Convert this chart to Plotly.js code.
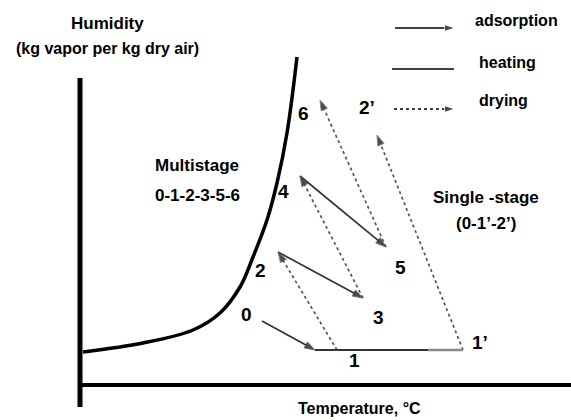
<!DOCTYPE html>
<html>
<head>
<meta charset="utf-8">
<script src="https://cdn.plot.ly/plotly-3.0.1.min.js"></script>
<style>html,body{margin:0;padding:0;background:#fff;}#chart{width:571px;height:420px;}</style>
</head>
<body>
<div id="chart"></div>
<script>
// Schematic coordinates (temperature units on x, humidity units on y)
const saturationX = [83, 143, 193, 220, 240, 253, 267, 277, 287, 297];
const saturationY = [68, 77, 90, 107, 133, 163, 200, 237, 287, 363];

// state points
const pointNames = ["0", "1", "1d", "2", "3", "4", "5", "6", "1'", "2'"];
const pointX = [262, 315, 337, 278, 363, 300, 386, 320, 463, 377];
const pointY = [99, 70, 70, 168, 122, 244, 173, 320, 70, 285];

// processes: [from, to]
const adsorption = [["0", "1"], ["2", "3"], ["4", "5"]];
const drying = [["1d", "2"], ["3", "4"], ["5", "6"], ["1'", "2'"]];
const heating = [["1", "1'"]];

// point labels
const labelText = ["0", "1", "2", "3", "4", "5", "6", "1’", "2’"];
const labelX = [246, 354, 260, 378, 283, 400, 303, 480, 367];
const labelY = [106, 60, 150, 103, 229, 153, 307, 78, 313];

// axes frame
const yAxisX = [80, 80], yAxisY = [13, 342];
const xAxisX = [80, 571], xAxisY = [35, 35];

// legend entries
const legendNames = ["adsorption", "heating", "drying"];
const legendLineX = [[395, 455], [392, 454], [394, 455]];
const legendLineY = [392, 351, 311];
const legendTextX = [473, 477, 477];
const legendTextY = [400, 358, 320];

const P = n => pointNames.indexOf(n);
const traces = [];

// axes
traces.push({x: yAxisX, y: yAxisY, mode: 'lines', line: {color: '#000', width: 5}, hoverinfo: 'skip'});
traces.push({x: xAxisX, y: xAxisY, mode: 'lines', line: {color: '#000', width: 4}, hoverinfo: 'skip'});

// saturation curve
traces.push({x: saturationX, y: saturationY, mode: 'lines', line: {color: '#000', width: 3.5, shape: 'spline', smoothing: 1}, hoverinfo: 'skip'});

function arrowTrace(a, b, dash, color) {
  return {
    x: [pointX[P(a)], pointX[P(b)]],
    y: [pointY[P(a)], pointY[P(b)]],
    mode: 'lines+markers',
    line: {color: color, width: 1.7, dash: dash},
    marker: {symbol: 'arrow', size: [0, 11], angleref: 'previous', color: '#000'},
    hoverinfo: 'skip'
  };
}
adsorption.forEach(p => traces.push(arrowTrace(p[0], p[1], 'solid', '#333')));
drying.forEach(p => traces.push(arrowTrace(p[0], p[1], '3px,3px', '#555')));
heating.forEach(p => {
  const x0 = pointX[P(p[0])], x1 = pointX[P(p[1])], y = pointY[P(p[0])];
  traces.push({x: [x0, x1], y: [y, y], mode: 'lines', line: {color: '#333', width: 2}, hoverinfo: 'skip'});
});
// grey end section of heating line
traces.push({x: [428, pointX[P("1'")]], y: [pointY[P("1'")], pointY[P("1'")]], mode: 'lines', line: {color: '#888', width: 2.5}, hoverinfo: 'skip'});

// legend lines
legendNames.forEach((n, i) => {
  const t = {x: legendLineX[i], y: [legendLineY[i], legendLineY[i]], mode: 'lines', hoverinfo: 'skip',
    line: {color: '#000', width: 1.7, dash: n === 'drying' ? '3px,3px' : 'solid'}};
  if (n !== 'heating') { t.mode = 'lines+markers'; t.marker = {symbol: 'arrow', size: [0, 11], angleref: 'previous', color: '#000'}; }
  traces.push(t);
});

const font = {family: 'Arial, "Liberation Sans", sans-serif', size: 17, color: '#000', weight: 'bold'};
const ann = [];
function txt(text, x, y, size, anchor) {
  ann.push({text: text, x: x, y: y, xref: 'x', yref: 'y', showarrow: false,
    xanchor: anchor || 'center', yanchor: 'middle', font: Object.assign({}, font, {size: size})});
}
labelText.forEach((t, i) => txt(t, labelX[i], labelY[i], 19));
legendNames.forEach((n, i) => txt(n, legendTextX[i], legendTextY[i], 16, 'left'));
txt('Humidity', 107, 397, 17);
txt('(kg vapor per kg dry air)', 107, 372, 16);
txt('Temperature, °C', 359, 12, 16);
txt('Multistage', 197, 255, 17);
txt('0-1-2-3-5-6', 197, 225, 17);
txt('Single -stage', 486, 223, 17);
txt('(0-1’-2’)', 486, 197, 17);

const layout = {
  width: 571, height: 420,
  margin: {l: 0, r: 0, t: 0, b: 0},
  paper_bgcolor: '#fff', plot_bgcolor: '#fff',
  showlegend: false,
  xaxis: {range: [0, 571], visible: false, fixedrange: true},
  yaxis: {range: [0, 420], visible: false, fixedrange: true},
  annotations: ann
};
Plotly.newPlot('chart', traces, layout, {staticPlot: true, displayModeBar: false});
</script>
</body>
</html>
